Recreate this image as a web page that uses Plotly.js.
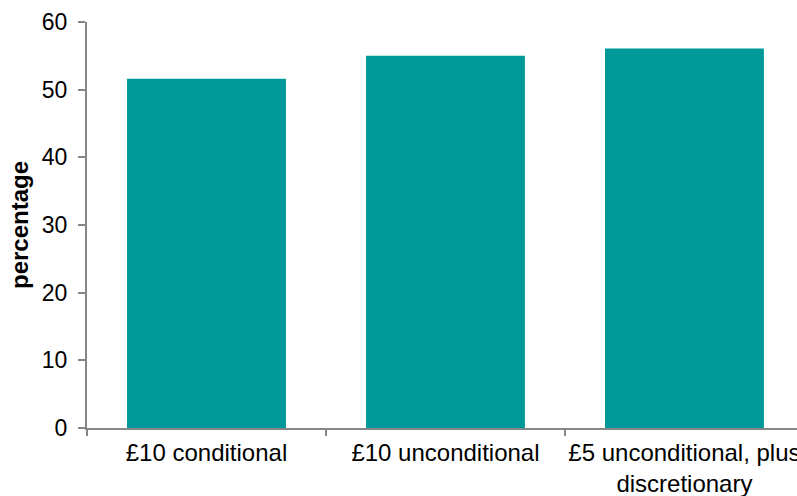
<!DOCTYPE html>
<html>
<head>
<meta charset="utf-8">
<script src="https://cdn.plot.ly/plotly-3.0.1.min.js"></script>
<style>html,body{margin:0;padding:0;background:#fff;}#chart{width:797px;height:496px;}</style>
</head>
<body>
<div id="chart"></div>
<script>
const categories = ["£10 conditional", "£10 unconditional", "£5 unconditional, plus<br>discretionary"];
const percentages = [51.6, 55.0, 56.1];
const yTicks = [0, 10, 20, 30, 40, 50, 60];

const trace = {
  type: "bar",
  x: categories,
  y: percentages,
  marker: {color: "#009999"},
  hoverinfo: "none"
};

const layout = {
  width: 797,
  height: 496,
  margin: {l: 87, r: 0, t: 22, b: 68},
  paper_bgcolor: "#ffffff",
  plot_bgcolor: "#ffffff",
  bargap: 0.335,
  showlegend: false,
  font: {family: "Liberation Sans, Arial, sans-serif", size: 24, color: "#000000"},
  xaxis: {
    type: "category",
    range: [-0.5, 2.471],
    showline: true,
    linecolor: "#868686",
    linewidth: 2,
    ticks: "outside",
    tickson: "boundaries",
    ticklen: 6,
    tickwidth: 2,
    tickcolor: "#868686",
    showgrid: false,
    zeroline: false,
    ticklabelstandoff: 2,
    tickfont: {size: 24}
  },
  yaxis: {
    range: [0, 60],
    tickvals: yTicks,
    ticktext: yTicks.map(String),
    showline: true,
    linecolor: "#868686",
    linewidth: 2,
    ticks: "outside",
    ticklen: 7,
    tickwidth: 2,
    tickcolor: "#868686",
    showgrid: false,
    zeroline: false,
    ticklabelstandoff: 6,
    tickfont: {size: 23},
    title: {text: "<b>percentage</b>", font: {size: 24}, standoff: 6}
  }
};

Plotly.newPlot("chart", [trace], layout, {staticPlot: true, displayModeBar: false});
</script>
</body>
</html>
